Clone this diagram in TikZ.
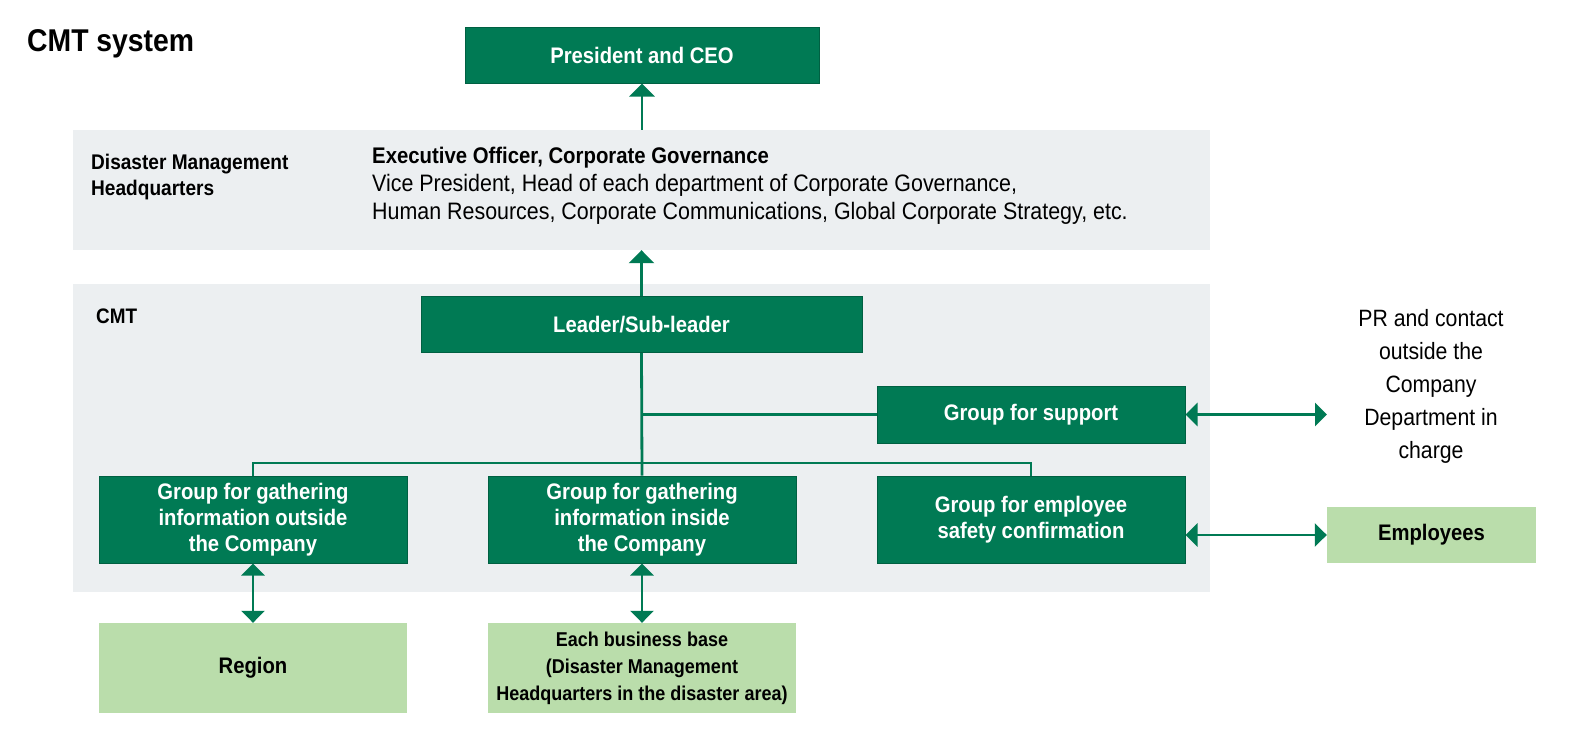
\documentclass[tikz,border=0pt]{standalone}
\usepackage{fontspec}
\setmainfont{Liberation Sans}[FakeStretch=0.9]
\usetikzlibrary{arrows.meta}
\definecolor{dg}{RGB}{0,122,84}
\definecolor{dgd}{RGB}{0,96,66}
\definecolor{lg}{RGB}{186,221,171}
\definecolor{bandgray}{RGB}{236,239,241}
\newcommand\boxfnt{\fontsize{22.5}{26}\selectfont\bfseries}
\tikzset{
  gbox/.style={fill=dg, draw=dgd, line width=1pt, text=white, font=\boxfnt, align=center, inner sep=0pt},
  lbox/.style={fill=lg, text=black, font=\boxfnt, align=center, inner sep=0pt},
  band/.style={fill=bandgray, inner sep=0pt},
  link/.style={draw=dg, line width=2.8pt},
  arr/.style={link, -{Triangle[width=25pt,length=13pt]}},
  darr/.style={link, {Triangle[width=23pt,length=12pt]}-{Triangle[width=23pt,length=12pt]}},
  plain/.style={inner sep=0pt, text=black}
}
\begin{document}
\begin{tikzpicture}[x=1pt,y=-1pt]
\useasboundingbox[fill=white] (0,0) rectangle (1588,750);

% bands
\node[band, minimum width=1137pt, minimum height=120pt] (dmh) at (641.5,190) {};
\node[band, minimum width=1137pt, minimum height=308pt] (cmtband) at (641.5,438) {};

% titles / labels
\node[plain, anchor=base west, font={\fontsize{31.5}{34}\selectfont\bfseries}] (title) at (27,51) {CMT system};
\node[plain, anchor=west, align=left, font={\fontsize{21.2}{26}\selectfont\bfseries}] (dmhlabel) at (91,177) {Disaster Management\\Headquarters};
\node[plain, anchor=west, align=left, font={\fontsize{23.8}{28}\selectfont}] (exec) at (372,186)
  {{\fontsize{22.6}{28}\selectfont\bfseries Executive Officer, Corporate Governance}\\
   Vice President, Head of each department of Corporate Governance,\\
   Human Resources, Corporate Communications, Global Corporate Strategy, etc.};
\node[plain, anchor=west, font={\fontsize{21}{26}\selectfont\bfseries}] (cmtlabel) at (96,316) {CMT};

% boxes
\node[gbox, minimum width=354pt, minimum height=56pt] (ceo) at (642,55) {President and CEO};
\node[gbox, minimum width=441pt, minimum height=56pt] (leader) at (641.5,324.5) {Leader/Sub-leader};
\node[gbox, minimum width=308pt, minimum height=57pt] (support) at (1031,414.5) {Group for support};
\node[gbox, minimum width=308pt, minimum height=87pt] (outg) at (253,519.5) {Group for gathering\\information outside\\the Company};
\node[gbox, minimum width=308pt, minimum height=87pt] (ing) at (642,519.5) {Group for gathering\\information inside\\the Company};
\node[gbox, minimum width=308pt, minimum height=87pt] (empg) at (1031,519.5) {Group for employee\\safety confirmation};
\node[lbox, minimum width=308pt, minimum height=90pt] (region) at (253,668) {Region};
\node[lbox, minimum width=308pt, minimum height=90pt, font={\fontsize{20}{27}\selectfont\bfseries}] (base) at (642,668)
  {Each business base\\(Disaster Management\\Headquarters in the disaster area)};
\node[lbox, minimum width=209pt, minimum height=56pt] (employees) at (1431.5,535) {Employees};
\node[plain, align=center, font={\fontsize{23.6}{33}\selectfont}] (pr) at (1431,386)
  {PR and contact\\outside the\\Company\\Department in\\charge};
\coordinate (prend) at (1327,414.5);

% connectors
\draw[arr] (ceo.south |- dmh.north) -- (ceo.south);
\draw[arr] (leader.north) -- (leader.north |- dmh.south);
\draw[link] (leader.south) -- (ing.north);
\draw[link] (leader.south |- support.west) -- (support.west);
\coordinate (bus) at (642,463);
\draw[link] (outg.north) |- (bus) -| (empg.north);
\draw[darr] (support.east) -- (prend);
\draw[darr] (employees.west -| empg.east) -- (employees.west);
\draw[darr] (outg.south) -- (region.north);
\draw[darr] (ing.south) -- (base.north);
\end{tikzpicture}
\end{document}
